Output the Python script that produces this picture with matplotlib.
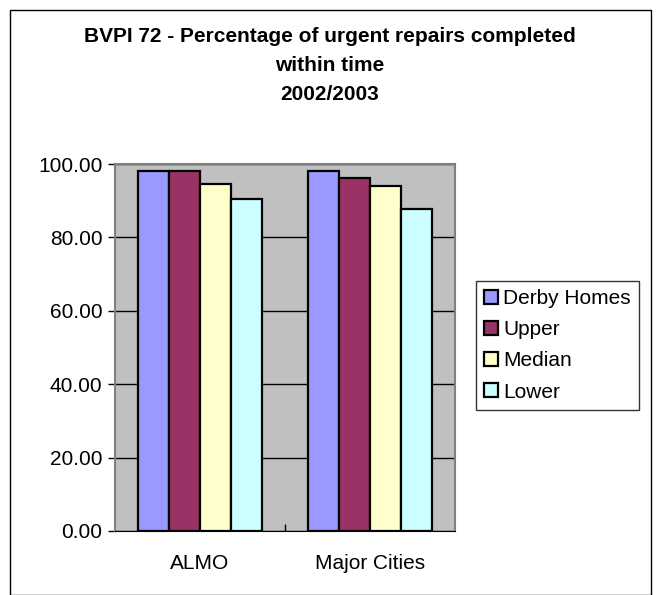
import numpy as np
import matplotlib
matplotlib.use('Agg')
import matplotlib.pyplot as plt
from matplotlib.patches import Rectangle

plt.rcParams['font.family'] = ['Liberation Sans', 'DejaVu Sans']

# values
categories = ['ALMO', 'Major Cities']
series_names = ['Derby Homes', 'Upper', 'Median', 'Lower']
derby_homes = [98.0, 98.0]
upper = [98.0, 96.2]
median = [94.5, 93.9]
lower = [90.5, 87.7]
series_values = [derby_homes, upper, median, lower]
colors = ['#9999ff', '#993366', '#ffffcc', '#ccffff']

fig = plt.figure(figsize=(6.57, 5.95), dpi=100)

# outer chart border
fig.patches.append(Rectangle((10 / 657, 0), 641 / 657, 1 - 10 / 595, transform=fig.transFigure,
                             fill=False, edgecolor='black', linewidth=1.0))

ax = fig.add_axes([115 / 657, 1 - 531 / 595, 340 / 657, 367 / 595])
ax.set_facecolor('#c0c0c0')

x = np.arange(len(categories))
group_w = 0.725
bar_w = group_w / len(series_names)
for i, (name, vals) in enumerate(zip(series_names, series_values)):
    offs = -group_w / 2 + bar_w * (i + 0.5)
    ax.bar(x + offs, vals, width=bar_w, color=colors[i], edgecolor='black',
           linewidth=1.6, label=name, zorder=3)

ax.set_xlim(-0.5, len(categories) - 0.5)
ax.set_ylim(0, 100)
ax.set_yticks(np.arange(0, 101, 20))
ax.set_yticklabels([f'{v:.2f}' for v in np.arange(0, 101, 20)], fontsize=15)
ax.yaxis.grid(True, color='black', linewidth=1.0, zorder=1)
ax.set_axisbelow(True)

ax.set_xticks([0.5])
ax.set_xticklabels([''])
ax.tick_params(axis='x', length=5, direction='in', width=1)
for xi, lab in zip(x, categories):
    ax.text(xi, -0.062, lab, transform=ax.get_xaxis_transform(), ha='center', va='top', fontsize=15)
ax.tick_params(axis='y', length=5, direction='out', width=1, pad=4)

for s in ['top', 'right', 'left']:
    ax.spines[s].set_color('#808080')
    ax.spines[s].set_linewidth(1.5)
ax.spines['bottom'].set_color('black')

fig.text(330 / 657, 1 - 27 / 595,
         'BVPI 72 - Percentage of urgent repairs completed\nwithin time\n2002/2003',
         ha='center', va='top', fontsize=15, fontweight='bold', linespacing=1.68)

leg = fig.legend(loc='upper left', bbox_to_anchor=(476 / 657, 1 - 281 / 595),
                 fontsize=15, frameon=True, fancybox=False, edgecolor='black',
                 handlelength=0.65, handleheight=0.65, handletextpad=0.25,
                 borderpad=0.4, labelspacing=0.58, borderaxespad=0)
leg.get_frame().set_linewidth(1.0)

fig.savefig('out.png', dpi=100)
